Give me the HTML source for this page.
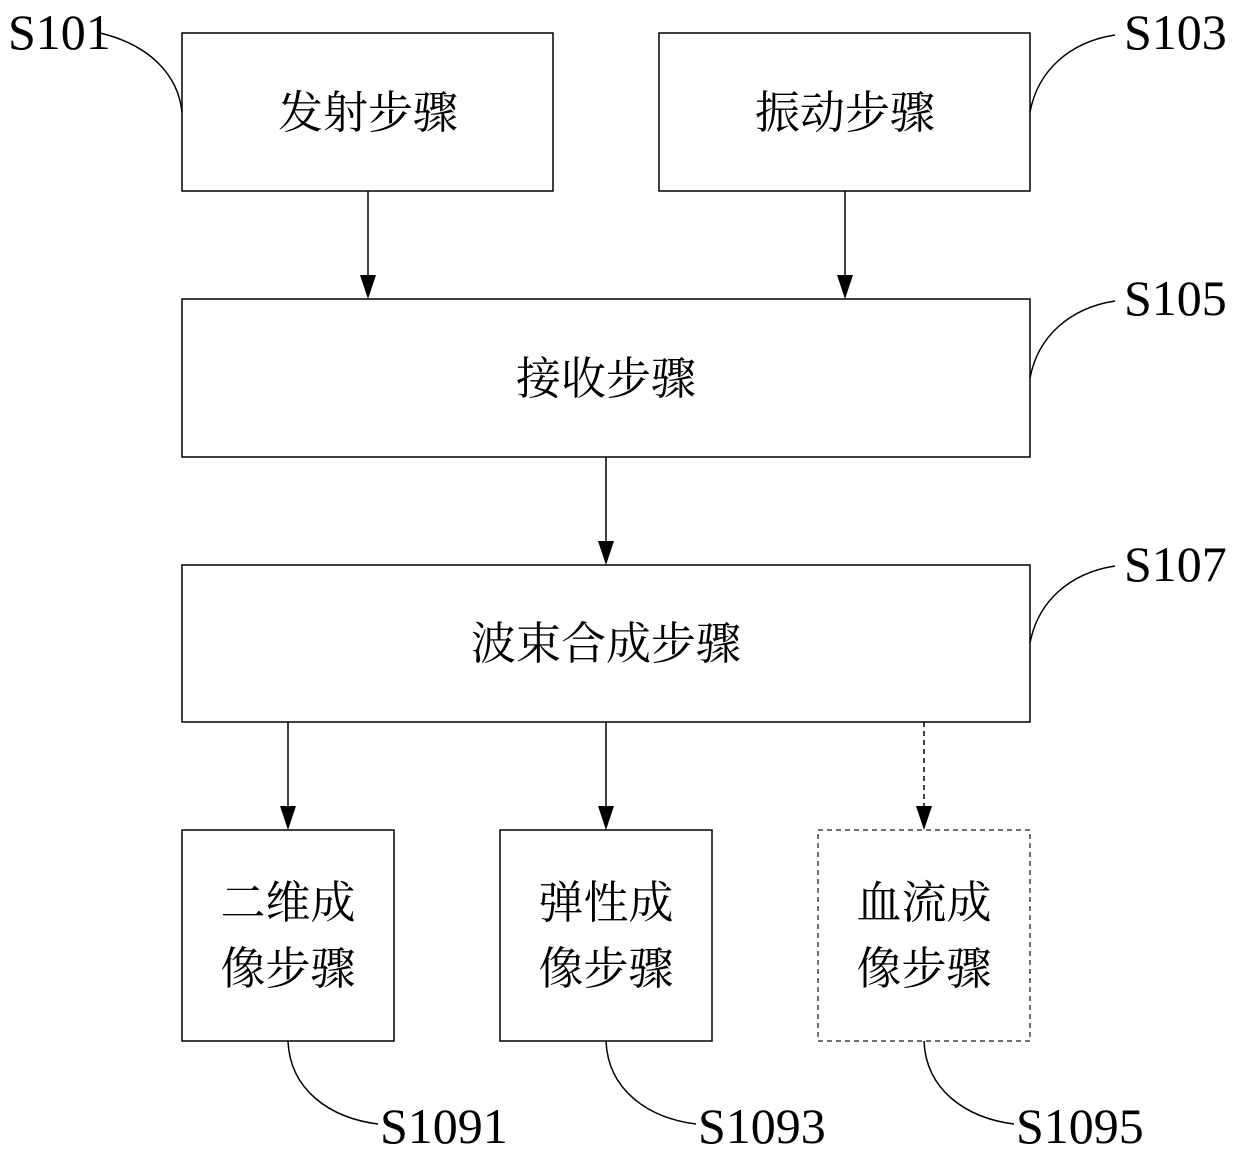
<!DOCTYPE html>
<html><head><meta charset="utf-8"><style>
html,body{margin:0;padding:0;background:#fff;}
svg{display:block}
.cn{font-family:"Liberation Serif","Noto Serif CJK SC",serif;font-size:45px;fill:#000;text-anchor:middle}
.lb{font-family:"Liberation Serif",serif;font-size:50px;fill:#000}
</style></head><body>
<svg width="1240" height="1157" viewBox="0 0 1240 1157" xmlns="http://www.w3.org/2000/svg">
<defs><marker id="a" markerWidth="16" markerHeight="28" refX="8" refY="28" orient="auto" markerUnits="userSpaceOnUse" viewBox="0 0 16 28"><path d="M0,0 L16,0 L8,28 Z" fill="#000" transform="rotate(-90 8 14)"/></marker></defs>
<g fill="none" stroke="#000" stroke-width="1.5">
<rect x="182" y="33" width="371" height="158"/>
<rect x="659" y="33" width="371" height="158"/>
<rect x="182" y="299" width="848" height="158"/>
<rect x="182" y="565" width="848" height="157"/>
<rect x="182" y="830" width="212" height="211"/>
<rect x="500" y="830" width="212" height="211"/>
<rect x="818" y="830" width="212" height="211" stroke-dasharray="5,4" stroke="#444"/>
<line x1="368" y1="191" x2="368" y2="275"/>
<line x1="845" y1="191" x2="845" y2="275"/>
<line x1="606" y1="457" x2="606" y2="541"/>
<line x1="288" y1="722" x2="288" y2="806"/>
<line x1="606" y1="722" x2="606" y2="806"/>
<line x1="924" y1="722" x2="924" y2="806" stroke-dasharray="5,4"/>
<path d="M100,33 C150,45 178,75 182,112"/>
<path d="M1030,112 C1038,70 1070,42 1115,35"/>
<path d="M1030,378 C1038,336 1070,308 1115,301"/>
<path d="M1030,643 C1038,601 1070,573 1115,566"/>
<path d="M288,1041 C290,1090 330,1118 378,1124"/>
<path d="M606,1041 C608,1090 648,1118 696,1124"/>
<path d="M924,1041 C926,1090 966,1118 1014,1124"/>
</g>
<g fill="#000">
<path d="M360,275 L376,275 L368,299 Z"/>
<path d="M837,275 L853,275 L845,299 Z"/>
<path d="M598,541 L614,541 L606,565 Z"/>
<path d="M280,806 L296,806 L288,830 Z"/>
<path d="M598,806 L614,806 L606,830 Z"/>
<path d="M916,806 L932,806 L924,830 Z"/>
</g>
<text class="cn" x="368" y="128">发射步骤</text>
<text class="cn" x="845" y="128">振动步骤</text>
<text class="cn" x="606" y="394">接收步骤</text>
<text class="cn" x="606" y="659">波束合成步骤</text>
<text class="cn" x="288" y="918">二维成</text>
<text class="cn" x="288" y="984">像步骤</text>
<text class="cn" x="606" y="918">弹性成</text>
<text class="cn" x="606" y="984">像步骤</text>
<text class="cn" x="924" y="918">血流成</text>
<text class="cn" x="924" y="984">像步骤</text>
<text class="lb" x="8" y="49">S101</text>
<text class="lb" x="1124" y="49">S103</text>
<text class="lb" x="1124" y="315">S105</text>
<text class="lb" x="1124" y="581">S107</text>
<text class="lb" x="380" y="1143">S1091</text>
<text class="lb" x="698" y="1143">S1093</text>
<text class="lb" x="1016" y="1143">S1095</text>
</svg>
</body></html>
